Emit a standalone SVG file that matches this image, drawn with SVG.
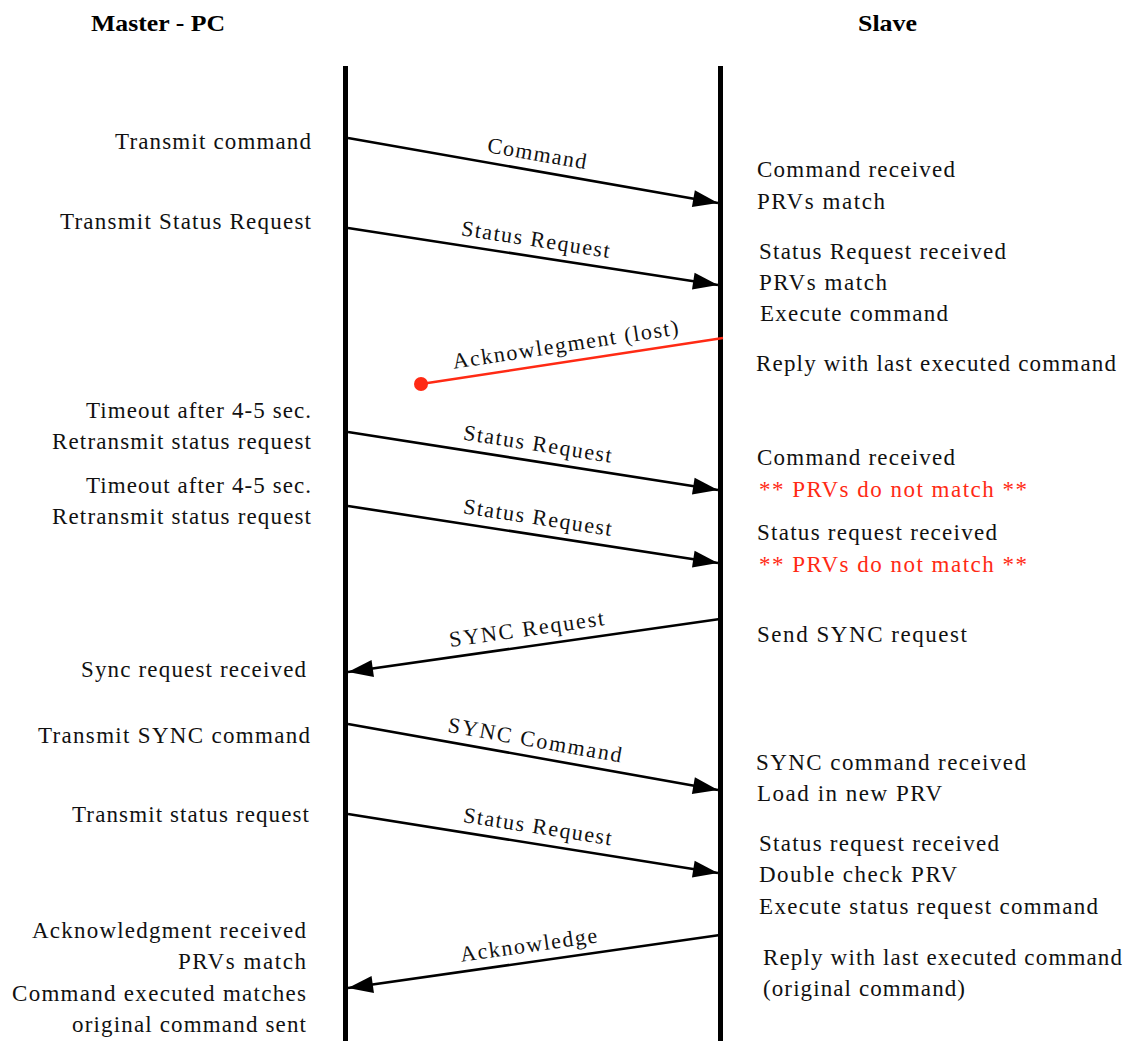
<svg xmlns="http://www.w3.org/2000/svg" width="1125" height="1041" viewBox="0 0 1125 1041">
  <style>
    .hdr { font-family: "Liberation Serif", "Times New Roman", serif; font-weight: bold; font-size: 24px; fill: #000; }
    .note { font-family: "Liberation Serif", "Times New Roman", serif; font-size: 23px; fill: #111; }
    .left { text-anchor: end; }
    .warn { fill: #ff2a14; }
    .msg { font-family: "Liberation Serif", "Times New Roman", serif; font-size: 22px; fill: #111; text-anchor: middle; }
    .life { stroke: #000; stroke-width: 5; fill: none; }
    .arrow { stroke: #000; stroke-width: 2.6; fill: none; marker-end: url(#head); }
    .lost { stroke: #ff2a14; stroke-width: 2.6; fill: none; }
  </style>
  <defs>
    <marker id="head" viewBox="-26 -10 28 20" refX="0" refY="0" markerWidth="28" markerHeight="20" markerUnits="userSpaceOnUse" orient="auto">
      <path d="M0,0 L-25,-8.5 L-25,8.5 Z" fill="#000"/>
    </marker>
  </defs>
  <rect width="1125" height="1041" fill="#fff"/>

  <!-- lifelines -->
  <g id="master">
    <text class="hdr" x="91" y="31" textLength="134" lengthAdjust="spacingAndGlyphs">Master - PC</text>
    <line class="life" x1="345.5" y1="66" x2="345.5" y2="1041"/>
  </g>
  <g id="slave">
    <text class="hdr" x="858" y="31" textLength="59" lengthAdjust="spacingAndGlyphs">Slave</text>
    <line class="life" x1="720.5" y1="66" x2="720.5" y2="1041"/>
  </g>

  <!-- master-side notes -->
  <g id="master-notes" class="note left">
    <text x="311" y="149" textLength="196" lengthAdjust="spacing">Transmit command</text>
    <text x="311" y="229" textLength="251" lengthAdjust="spacing">Transmit Status Request</text>
    <text x="311" y="418" textLength="225" lengthAdjust="spacing">Timeout after 4-5 sec.</text>
    <text x="311" y="449" textLength="259" lengthAdjust="spacing">Retransmit status request</text>
    <text x="311" y="493" textLength="225" lengthAdjust="spacing">Timeout after 4-5 sec.</text>
    <text x="311" y="524" textLength="259" lengthAdjust="spacing">Retransmit status request</text>
    <text x="306" y="677" textLength="225" lengthAdjust="spacing">Sync request received</text>
    <text x="310" y="743" textLength="272" lengthAdjust="spacing">Transmit SYNC command</text>
    <text x="309" y="822" textLength="237" lengthAdjust="spacing">Transmit status request</text>
    <text x="306" y="938" textLength="274" lengthAdjust="spacing">Acknowledgment received</text>
    <text x="306" y="969" textLength="128" lengthAdjust="spacing">PRVs match</text>
    <text x="306" y="1001" textLength="294" lengthAdjust="spacing">Command executed matches</text>
    <text x="306" y="1032" textLength="234" lengthAdjust="spacing">original command sent</text>
  </g>

  <!-- slave-side notes -->
  <g id="slave-notes" class="note">
    <text x="757" y="177" textLength="198" lengthAdjust="spacing">Command received</text>
    <text x="757" y="209" textLength="128" lengthAdjust="spacing">PRVs match</text>
    <text x="759" y="259" textLength="247" lengthAdjust="spacing">Status Request received</text>
    <text x="759" y="290" textLength="128" lengthAdjust="spacing">PRVs match</text>
    <text x="760" y="321" textLength="188" lengthAdjust="spacing">Execute command</text>
    <text x="756" y="371" textLength="360" lengthAdjust="spacing">Reply with last executed command</text>
    <text x="757" y="465" textLength="198" lengthAdjust="spacing">Command received</text>
    <text class="warn" x="759" y="497" textLength="268" lengthAdjust="spacing">** PRVs do not match **</text>
    <text x="757" y="540" textLength="240" lengthAdjust="spacing">Status request received</text>
    <text class="warn" x="759" y="572" textLength="268" lengthAdjust="spacing">** PRVs do not match **</text>
    <text x="757" y="642" textLength="210" lengthAdjust="spacing">Send SYNC request</text>
    <text x="756" y="770" textLength="270" lengthAdjust="spacing">SYNC command received</text>
    <text x="757" y="801" textLength="185" lengthAdjust="spacing">Load in new PRV</text>
    <text x="759" y="851" textLength="240" lengthAdjust="spacing">Status request received</text>
    <text x="759" y="882" textLength="198" lengthAdjust="spacing">Double check PRV</text>
    <text x="759" y="914" textLength="339" lengthAdjust="spacing">Execute status request command</text>
    <text x="763" y="965" textLength="359" lengthAdjust="spacing">Reply with last executed command</text>
    <text x="763" y="996" textLength="202" lengthAdjust="spacing">(original command)</text>
  </g>

  <!-- messages -->
  <g id="connectors">
    <line class="arrow" x1="348" y1="138" x2="718" y2="203"/>
    <text class="msg" transform="translate(534,170.5) rotate(9.91)" y="-10" textLength="100" lengthAdjust="spacing">Command</text>

    <line class="arrow" x1="348" y1="228" x2="718" y2="285"/>
    <text class="msg" transform="translate(533,256.5) rotate(8.71)" y="-10" textLength="150" lengthAdjust="spacing">Status Request</text>

    <line class="lost" x1="723" y1="338" x2="421" y2="384"/>
    <circle cx="421" cy="384" r="7" fill="#ff2a14"/>
    <text class="msg" transform="translate(568,361.5) rotate(-8.69)" y="-10" textLength="228" lengthAdjust="spacing">Acknowlegment (lost)</text>

    <line class="arrow" x1="348" y1="432" x2="718" y2="490"/>
    <text class="msg" transform="translate(535,461) rotate(8.87)" y="-10" textLength="150" lengthAdjust="spacing">Status Request</text>

    <line class="arrow" x1="348" y1="506" x2="718" y2="563"/>
    <text class="msg" transform="translate(535,534.5) rotate(8.71)" y="-10" textLength="150" lengthAdjust="spacing">Status Request</text>

    <line class="arrow" x1="720" y1="619" x2="348" y2="672"/>
    <text class="msg" transform="translate(529,646) rotate(-8.11)" y="-10" textLength="156" lengthAdjust="spacing">SYNC Request</text>

    <line class="arrow" x1="348" y1="724" x2="718" y2="790"/>
    <text class="msg" transform="translate(532,757) rotate(10.06)" y="-10" textLength="176" lengthAdjust="spacing">SYNC Command</text>

    <line class="arrow" x1="348" y1="814" x2="718" y2="873"/>
    <text class="msg" transform="translate(535,843.5) rotate(9.01)" y="-10" textLength="150" lengthAdjust="spacing">Status Request</text>

    <line class="arrow" x1="720" y1="935" x2="348" y2="988"/>
    <text class="msg" transform="translate(531,962) rotate(-8.11)" y="-10" textLength="138" lengthAdjust="spacing">Acknowledge</text>
  </g>
</svg>
